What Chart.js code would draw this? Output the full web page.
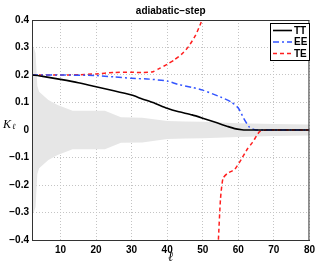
<!DOCTYPE html>
<html>
<head>
<meta charset="utf-8">
<script src="https://cdn.jsdelivr.net/npm/chart.js@4"></script>
<style>
  body { margin: 0; background: #fff; }
</style>
</head>
<body>
<canvas id="c" width="319" height="265"></canvas>
<script>
// multipole values and K_l for each spectrum
var ttL = [2, 5, 10, 15, 20, 25, 30, 33, 36, 40, 43, 47, 50, 54, 57, 59, 61, 62, 80];
var ttK = [0.2, 0.195, 0.184, 0.172, 0.157, 0.143, 0.127, 0.113, 0.1, 0.079, 0.067, 0.055, 0.043, 0.026, 0.013, 0.005, 0.001, 0, 0];

var eeL = [2, 10, 20, 25, 30, 35, 40, 43, 47, 50, 55, 58, 60, 61.5, 63, 64, 65, 80];
var eeK = [0.2, 0.2, 0.198, 0.193, 0.188, 0.185, 0.178, 0.166, 0.155, 0.145, 0.12, 0.102, 0.08, 0.043, 0.012, 0.004, 0, 0];

// TE blows up between l=51 and l=54 (null = break in the line)
var teL = [2, 10, 15, 20, 25, 30, 33, 36, 38, 40, 42, 44, 46, 48, 49.5, 50.5, 51, 52.5, 54, 54.4, 55, 55.7, 57, 59, 61, 62.5, 64, 66, 68, 80];
var teK = [0.2, 0.2, 0.201, 0.204, 0.209, 0.21, 0.209, 0.212, 0.225, 0.239, 0.255, 0.275, 0.303, 0.345, 0.39, 0.43, 0.5, null, -0.5, -0.4, -0.25, -0.176, -0.157, -0.143, -0.103, -0.07, -0.045, -0.006, 0, 0];

// grey band: half width around zero
var bandL = [2, 2.5, 3, 3.5, 4, 6.6, 9.2, 13.4, 22.5, 27, 33, 40, 45, 50, 60, 70, 80];
var bandW = [0.3, 0.3, 0.28, 0.16, 0.139, 0.109, 0.091, 0.07, 0.07, 0.046, 0.045, 0.033, 0.031, 0.03, 0.025, 0.022, 0.02];

var xTicks = [10, 20, 30, 40, 50, 60, 70, 80];
var labels = ['TT', 'EE', 'TE'];
var titleText = 'adiabatic\u2212step';

function pts(xs, ys) {
  var out = [];
  for (var i = 0; i < xs.length; i++) out.push({x: xs[i], y: ys[i]});
  return out;
}

var tickFont = {family: '"Liberation Sans", Arial, sans-serif', size: 10, weight: 'bold'};
var gridCol = '#c4c4c4';

var decor = {
  id: 'decor',
  afterDraw: function(chart) {
    var c = chart.ctx, a = chart.chartArea;
    c.save();
    // box round the plot
    c.strokeStyle = '#333';
    c.lineWidth = 1;
    c.strokeRect(a.left + 0.5, a.top + 0.5, a.right - a.left - 1, a.bottom - a.top);

    // title
    c.fillStyle = '#000';
    c.font = 'bold 10px "Liberation Sans", Arial, sans-serif';
    c.textAlign = 'center';
    c.textBaseline = 'middle';
    c.fillText(titleText, (a.left + a.right) / 2, 11);

    // axis labels
    c.font = 'italic 13px "DejaVu Serif", serif';
    c.textBaseline = 'alphabetic';
    c.fillText('\u2113', (a.left + a.right) / 2, 261);
    c.textAlign = 'left';
    c.font = 'italic 12px "Liberation Serif", serif';
    c.fillText('K', 3, 128);
    c.font = 'italic 8px "DejaVu Serif", serif';
    c.fillText('\u2113', 12, 129);

    // legend in upper right
    var bx = 270, by = 23, bw = 39, bh = 37;
    c.fillStyle = '#fff';
    c.fillRect(bx, by, bw, bh);
    c.strokeStyle = '#000';
    c.strokeRect(bx + 0.5, by + 0.5, bw, bh);
    c.font = 'bold 10px "Liberation Sans", Arial, sans-serif';
    c.textBaseline = 'middle';
    for (var i = 0; i < 3; i++) {
      var ds = chart.data.datasets[i];
      var y = by + 7.5 + i * 11.5;
      c.beginPath();
      c.setLineDash(ds.borderDash || []);
      c.strokeStyle = ds.borderColor;
      c.lineWidth = ds.borderWidth;
      c.moveTo(bx + 3, y);
      c.lineTo(bx + 22, y);
      c.stroke();
      c.setLineDash([]);
      c.fillStyle = '#000';
      c.fillText(ds.label, bx + 24, y + 0.5);
    }
    c.restore();
  }
};

new Chart(document.getElementById('c'), {
  type: 'line',
  data: {
    datasets: [
      {label: labels[0], data: pts(ttL, ttK), borderColor: '#000', borderWidth: 1.6, pointRadius: 0, fill: false, tension: 0.2},
      {label: labels[1], data: pts(eeL, eeK), borderColor: '#3355ff', borderWidth: 1.5, borderDash: [6, 3, 2, 3], pointRadius: 0, fill: false, tension: 0.2},
      {label: labels[2], data: pts(teL, teK), borderColor: '#ff1f1f', borderWidth: 1.5, borderDash: [4, 3], pointRadius: 0, fill: false, spanGaps: false, tension: 0.2},
      {label: 'upper', data: pts(bandL, bandW), borderWidth: 0, pointRadius: 0, backgroundColor: '#e6e6e6', fill: '+1'},
      {label: 'lower', data: pts(bandL, bandW.map(function(w) { return -w; })), borderWidth: 0, pointRadius: 0, backgroundColor: '#e6e6e6', fill: false}
    ]
  },
  options: {
    responsive: false,
    animation: false,
    layout: {padding: {top: 20, right: 7, left: 0, bottom: 0}},
    plugins: {legend: {display: false}, tooltip: {enabled: false}, title: {display: false}},
    scales: {
      x: {
        type: 'linear', min: 2, max: 80,
        afterBuildTicks: function(s) { s.ticks = xTicks.map(function(v) { return {value: v}; }); },
        afterFit: function(s) { s.height = 25; },
        grid: {color: gridCol, drawTicks: false},
        border: {color: '#333', dash: [1, 2]},
        ticks: {font: tickFont, color: '#000', padding: 4, maxRotation: 0}
      },
      y: {
        min: -0.4, max: 0.4,
        afterFit: function(s) { s.width = 32; },
        grid: {color: gridCol, drawTicks: false},
        border: {color: '#333', dash: [1, 2]},
        ticks: {
          stepSize: 0.1, font: tickFont, color: '#000', padding: 3,
          callback: function(v) {
            var r = Math.round(v * 10) / 10;
            if (r === 0) return '0';
            return (r < 0 ? '\u2212' : '') + Math.abs(r).toFixed(1);
          }
        }
      }
    }
  },
  plugins: [decor]
});
</script>
</body>
</html>
